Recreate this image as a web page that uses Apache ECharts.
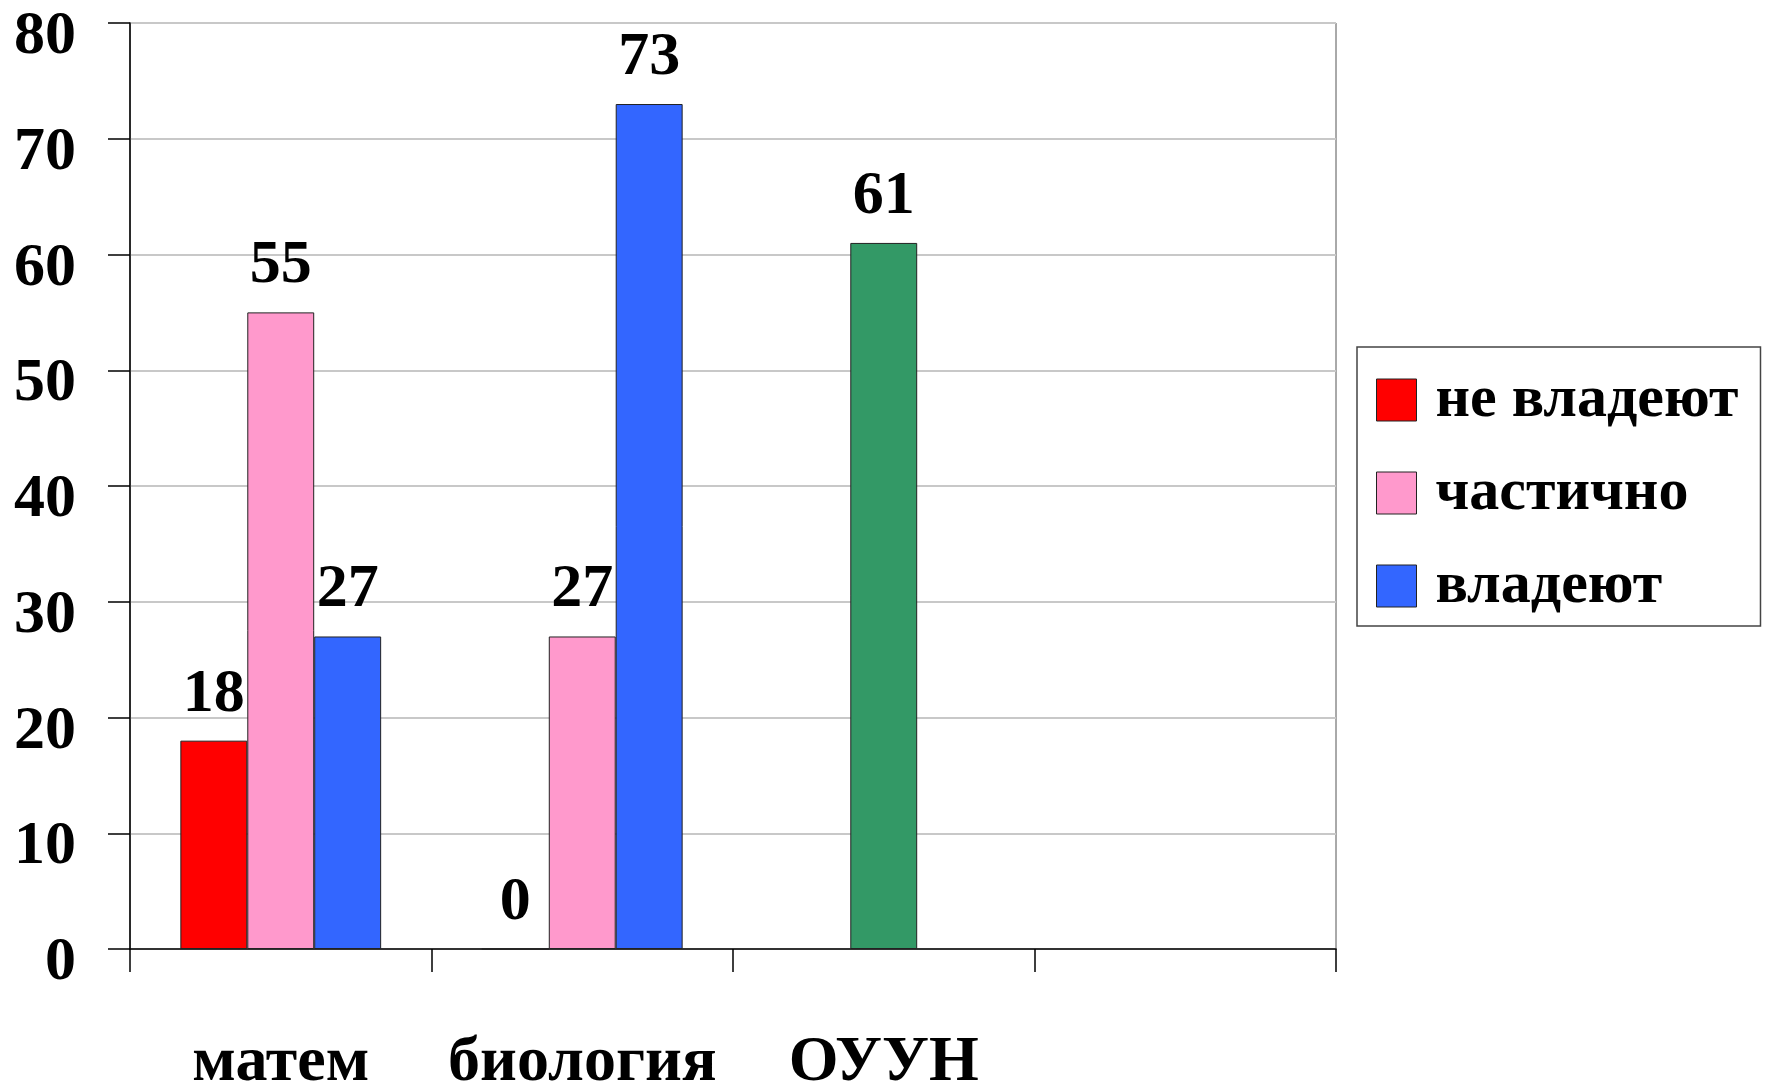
<!DOCTYPE html>
<html>
<head>
<meta charset="utf-8">
<style>
  html, body { margin: 0; padding: 0; background: #fff; }
  #chart { width: 1768px; height: 1087px; }
</style>
<script src="https://cdn.jsdelivr.net/npm/echarts@6/dist/echarts.min.js"></script>
</head>
<body>
<div id="chart"></div>
<script>
const categories = ['матем', 'биология', 'ОУУН', ''];
const seriesNames = ['не владеют', 'частично', 'владеют'];
const neVladeyut = [18, 0, null, null];
const chastichno = [55, 27, 61, null];
const vladeyut = [27, 73, null, null];
const yTicks = [0, 10, 20, 30, 40, 50, 60, 70, 80];

const COLORS = ['#FF0000', '#FF99CC', '#3366FF'];
const OUUN_COLOR = '#339966';
const FONT = '"Liberation Serif", "Times New Roman", serif';

const chart = echarts.init(document.getElementById('chart'), null, { renderer: 'canvas' });

function makeSeries(name, data, color, overrides) {
  return {
    name: name,
    type: 'bar',
    barWidth: '22.2%',
    barGap: '0%',
    data: data.map((v, i) => overrides && overrides[i] ? { value: v, itemStyle: { color: overrides[i] } } : v),
    itemStyle: { color: color, borderColor: '#222', borderWidth: 1 },
    label: {
      show: true,
      position: 'top',
      distance: 15,
      color: '#000',
      fontFamily: FONT,
      fontWeight: 'bold',
      fontSize: 62,
      formatter: p => (p.value === null || p.value === undefined) ? '' : String(p.value)
    },
    emphasis: { disabled: true },
    animation: false
  };
}

const option = {
  backgroundColor: '#fff',
  animation: false,
  grid: {
    left: 130, right: 432, top: 23, bottom: 138,
    containLabel: false,
    outerBoundsMode: 'none',
    show: true, borderColor: '#555', borderWidth: 1, backgroundColor: 'transparent'
  },
  legend: {
    orient: 'vertical',
    left: 1357, top: 347,
    padding: [23, 22, 10, 19],
    borderColor: '#444', borderWidth: 1.5,
    itemWidth: 40, itemHeight: 42, itemGap: 33,
    icon: 'rect',
    itemStyle: { borderColor: '#222', borderWidth: 1 },
    textStyle: { fontFamily: FONT, fontWeight: 'bold', fontSize: 60, color: '#000', padding: [0, 0, 0, 14] },
    data: seriesNames
  },
  xAxis: {
    type: 'category',
    data: categories,
    boundaryGap: true,
    axisLine: { lineStyle: { color: '#000', width: 1.5 } },
    axisTick: { show: true, length: 23, alignWithLabel: false, lineStyle: { color: '#000', width: 1.5 } },
    axisLabel: {
      interval: 0,
      margin: 82,
      color: '#000', fontFamily: FONT, fontWeight: 'bold', fontSize: 64
    },
    splitLine: { show: false }
  },
  yAxis: {
    type: 'value',
    min: 0, max: 80, interval: 10,
    axisLine: { show: true, lineStyle: { color: '#000', width: 1.5 } },
    axisTick: { show: true, length: 22, lineStyle: { color: '#000', width: 1.5 } },
    axisLabel: {
      margin: 54,
      verticalAlign: 'top',
      lineHeight: 28,
      color: '#000', fontFamily: FONT, fontWeight: 'bold', fontSize: 62,
      formatter: v => yTicks.includes(v) ? String(v) : ''
    },
    splitLine: { show: true, lineStyle: { color: '#C8C8C8', width: 2 } }
  },
  series: [
    makeSeries(seriesNames[0], neVladeyut, COLORS[0]),
    makeSeries(seriesNames[1], chastichno, COLORS[1], { 2: OUUN_COLOR }),
    makeSeries(seriesNames[2], vladeyut, COLORS[2])
  ]
};

chart.setOption(option);
</script>
</body>
</html>
